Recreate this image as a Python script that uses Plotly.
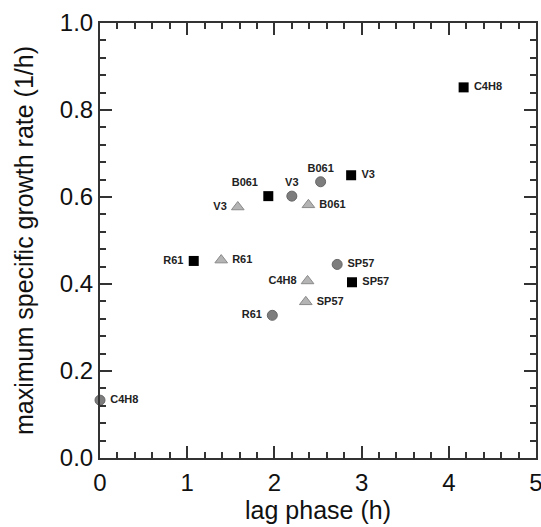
import plotly.graph_objects as go

# Data
sq_x = [4.17, 2.88, 1.93, 1.075, 2.89]
sq_y = [0.852, 0.650, 0.602, 0.453, 0.404]
sq_lab = ["C4H8", "V3", "B061", "R61", "SP57"]
sq_pos = ["middle right", "middle right", "top left", "middle left", "middle right"]

ci_x = [2.53, 2.20, 2.72, 1.976, 0.0]
ci_y = [0.635, 0.602, 0.445, 0.328, 0.133]
ci_lab = ["B061", "V3", "SP57", "R61", "C4H8"]
ci_pos = ["top center", "top center", "middle right", "middle left", "middle right"]

tr_x = [1.58, 2.39, 1.39, 2.38, 2.36]
tr_y = [0.577, 0.582, 0.455, 0.407, 0.359]
tr_lab = ["V3", "B061", "R61", "C4H8", "SP57"]
tr_pos = ["middle left", "middle right", "middle right", "middle left", "middle right"]

x_ticks = [0, 1, 2, 3, 4, 5]
y_ticks = [0.0, 0.2, 0.4, 0.6, 0.8, 1.0]

FONT = "Arial, Liberation Sans, sans-serif"
lblfont = dict(family=FONT, size=11, color="#222", weight="bold")

fig = go.Figure()
fig.add_trace(go.Scatter(
    x=sq_x, y=sq_y, text=[" " + t + " " for t in sq_lab], textposition=sq_pos,
    mode="markers+text", cliponaxis=False,
    marker=dict(symbol="square", size=10, color="#000000", line=dict(width=0)),
    textfont=lblfont, showlegend=False))
fig.add_trace(go.Scatter(
    x=ci_x, y=ci_y, text=[" " + t + " " for t in ci_lab], textposition=ci_pos,
    mode="markers+text", cliponaxis=False,
    marker=dict(symbol="circle", size=10, color="#7d7d7d", line=dict(width=1, color="#666666")),
    textfont=lblfont, showlegend=False))
fig.add_trace(go.Scatter(
    x=tr_x, y=tr_y, text=[" " + t + " " for t in tr_lab], textposition=tr_pos,
    mode="markers+text", cliponaxis=False,
    marker=dict(symbol="triangle-up", size=11, color="#b4b4b4", line=dict(width=1, color="#8a8a8a")),
    textfont=lblfont, showlegend=False))

axcommon = dict(
    showgrid=False, zeroline=False, showline=True, linecolor="#333", linewidth=2,
    mirror="ticks", ticks="inside", ticklen=12, tickwidth=2, tickcolor="#333",
    tickfont=dict(family=FONT, size=24, color="#111"), ticklabeloverflow="allow",
)
fig.update_xaxes(**axcommon, range=[0, 5], tickmode="array", tickvals=x_ticks,
                 ticktext=[str(v) for v in x_ticks], ticklabelstandoff=2,
                 minor=dict(ticks="inside", ticklen=6, tickwidth=2, tickcolor="#333", dtick=0.2, tick0=0, showgrid=False),
                 title=dict(text="lag phase (h)", font=dict(family=FONT, size=25, color="#111"), standoff=4))
fig.update_yaxes(**axcommon, range=[0, 1], tickmode="array", tickvals=y_ticks,
                 ticktext=[f"{v:.1f}" for v in y_ticks],
                 minor=dict(ticks="inside", ticklen=6, tickwidth=2, tickcolor="#333", dtick=0.04, tick0=0, showgrid=False),
                 title=dict(text="maximum specific growth rate (1/h)", font=dict(family=FONT, size=25, color="#111"), standoff=19))

fig.update_layout(
    width=541, height=527,
    margin=dict(l=100, r=5, t=23, b=69, autoexpand=False),
    plot_bgcolor="white", paper_bgcolor="white",
)
fig.write_html("out.html", config={"displayModeBar": False},
               post_script="document.body.style.margin='0';document.body.style.overflow='hidden';")
